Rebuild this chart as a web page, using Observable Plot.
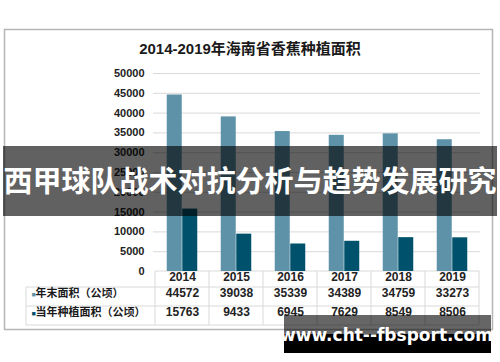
<!DOCTYPE html>
<html>
<head>
<meta charset="utf-8">
<script src="https://cdn.jsdelivr.net/npm/d3@7"></script>
<script src="https://cdn.jsdelivr.net/npm/@observablehq/plot@0.6"></script>
<style>
  html, body { margin: 0; padding: 0; background: #fff; }
  #chart svg { display: block; }
</style>
</head>
<body>
<div id="chart"></div>
<script>
// ---- data ----
const years = ["2014", "2015", "2016", "2017", "2018", "2019"];
const endArea = [44572, 39038, 35339, 34389, 34759, 33273];     // 年末面积（公顷）
const plantArea = [15763, 9433, 6945, 7629, 8549, 8506];        // 当年种植面积（公顷）
const seriesNames = ["年末面积（公顷）", "当年种植面积（公顷）"];
const yTicks = [0, 5000, 10000, 15000, 20000, 25000, 30000, 35000, 40000, 45000, 50000];
const chartTitle = "2014-2019年海南省香蕉种植面积";
const bannerText = "西甲球队战术对抗分析与趋势发展研究";
const watermarkText = "www.cht--fbsport.com";

const colors = ["#5E92A8", "#00526C"];
const FONT = '"Liberation Sans", Arial, "Noto Sans CJK SC", sans-serif';

const rows = years.map((y, i) => ({year: y, end: endArea[i], plant: plantArea[i]}));

const W = 500, H = 362;
const mL = 153, mR = 20, mT = 73, mB = 91;
const bw = (W - mL - mR) / years.length;
const barW = 15.5;
const half = bw / 2;

const plot = Plot.plot({
  width: W,
  height: H,
  marginLeft: mL,
  marginRight: mR,
  marginTop: mT,
  marginBottom: mB,
  style: {fontFamily: FONT, background: "#fff", overflow: "visible"},
  x: {type: "band", domain: years, padding: 0, axis: null},
  y: {domain: [0, 50000], axis: null},
  marks: [
    Plot.gridY(yTicks.filter(d => d > 0), {stroke: "#d9d9d9", strokeOpacity: 1, strokeWidth: 1}),
    Plot.barY(rows, {x: "year", y: "end", fill: colors[0], insetLeft: half - barW, insetRight: half}),
    Plot.barY(rows, {x: "year", y: "plant", fill: colors[1], insetLeft: half, insetRight: half - barW}),
    Plot.axisY({ticks: yTicks, tickFormat: d => String(d), tickSize: 0, tickPadding: 9, fontSize: 11, fontWeight: "bold", fill: "#222", label: null}),
    // table: years row
    Plot.text(years, {x: d => d, text: d => d, frameAnchor: "bottom", dy: 9, fontSize: 12, fontWeight: "bold", fill: "#222"}),
    // table: series rows
    Plot.text(rows, {x: "year", text: d => String(d.end), frameAnchor: "bottom", dy: 25, fontSize: 12, fontWeight: "bold", fill: "#222"}),
    Plot.text(rows, {x: "year", text: d => String(d.plant), frameAnchor: "bottom", dy: 44, fontSize: 12, fontWeight: "bold", fill: "#222"}),
    // row labels
    Plot.text([seriesNames[0]], {text: d => d, frameAnchor: "bottom-left", dx: 35 - mL, dy: 25, textAnchor: "start", fontSize: 11, fontWeight: "bold", fill: "#1a1a1a"}),
    Plot.text([seriesNames[1]], {text: d => d, frameAnchor: "bottom-left", dx: 35 - mL, dy: 44, textAnchor: "start", fontSize: 11, fontWeight: "bold", fill: "#1a1a1a"}),
    Plot.text(["■"], {text: d => d, frameAnchor: "bottom-left", dx: 31 - mL, dy: 25, fontSize: 7, fill: colors[0]}),
    Plot.text(["■"], {text: d => d, frameAnchor: "bottom-left", dx: 31 - mL, dy: 44, fontSize: 7, fill: colors[1]})
  ]
});

document.getElementById("chart").appendChild(plot);

const svg = d3.select(plot);
const xs = plot.scale("x");
const ys = plot.scale("y");
const y0 = ys.apply(0);
const left0 = xs.apply(years[0]);
const right0 = xs.apply(years[years.length - 1]) + xs.bandwidth;

// table grid lines
const tg = svg.insert("g", ":first-child").attr("stroke", "#d9d9d9").attr("stroke-width", 1);
const rowLines = [y0 + 16, y0 + 35, y0 + 54];
tg.append("line").attr("x1", left0).attr("x2", right0).attr("y1", y0).attr("y2", y0);
rowLines.forEach(yy => tg.append("line").attr("x1", 26).attr("x2", right0).attr("y1", yy).attr("y2", yy));
tg.append("line").attr("x1", 26).attr("x2", 26).attr("y1", rowLines[0]).attr("y2", rowLines[2]);
years.forEach(yr => {
  const xx = xs.apply(yr);
  tg.append("line").attr("x1", xx).attr("x2", xx).attr("y1", y0).attr("y2", rowLines[2]);
});
tg.append("line").attr("x1", right0).attr("x2", right0).attr("y1", y0).attr("y2", rowLines[2]);

// outer frame
svg.append("rect").attr("x", 4.5).attr("y", 29.5).attr("width", 488).attr("height", 300)
  .attr("fill", "none").attr("stroke", "#b5b5b5").attr("stroke-width", 1.5);

// title
svg.append("text").attr("x", 250).attr("y", 49).attr("text-anchor", "middle").attr("dy", "0.35em")
  .attr("font-family", FONT).attr("font-size", 15).attr("font-weight", "bold").attr("fill", "#1a1a1a")
  .text(chartTitle);

// overlay banner
svg.append("rect").attr("x", 3).attr("y", 146).attr("width", 494).attr("height", 70)
  .attr("fill", "#000").attr("fill-opacity", 0.62);
svg.append("text").attr("x", 250).attr("y", 182).attr("text-anchor", "middle").attr("dy", "0.35em")
  .attr("font-family", '"Noto Sans CJK SC", sans-serif').attr("font-size", 29).attr("font-weight", "bold")
  .attr("fill", "#fff").text(bannerText);

// watermark
svg.append("rect").attr("x", 284).attr("y", 315).attr("width", 207).attr("height", 19)
  .attr("fill", "#000").attr("fill-opacity", 0.6);
svg.append("rect").attr("x", 284).attr("y", 334).attr("width", 207).attr("height", 19)
  .attr("fill", "#000");
svg.append("text").attr("x", 386.5).attr("y", 341).attr("text-anchor", "middle")
  .attr("font-family", '"DejaVu Sans", sans-serif').attr("font-size", 17).attr("font-weight", "bold")
  .attr("fill", "#fff").text(watermarkText);
</script>
</body>
</html>
